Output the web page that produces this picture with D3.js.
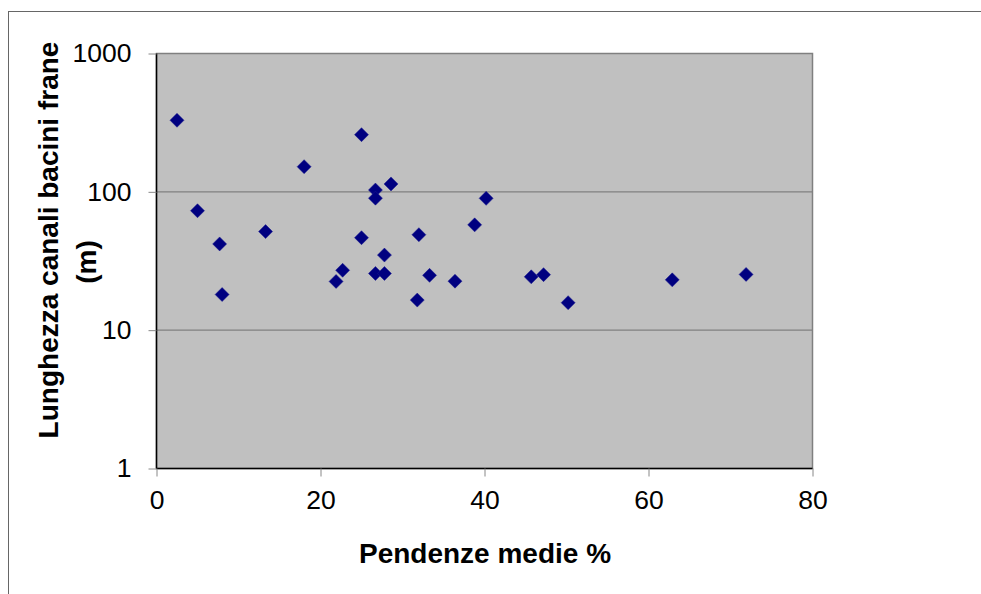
<!DOCTYPE html>
<html>
<head>
<meta charset="utf-8">
<script src="https://cdn.jsdelivr.net/npm/d3@7"></script>
<style>
  body { margin: 0; background: #fff; }
  svg text { font-family: "Liberation Sans", Arial, sans-serif; }
</style>
</head>
<body>
<svg id="chart"></svg>
<script>
// pendenze medie (%) e lunghezza canali (m)
var pendenze = [2.5, 5.0, 7.7, 8.0, 13.3, 18.0, 21.9, 22.7, 25.0, 25.0, 26.7, 26.7, 26.7, 27.8,
    27.8, 28.6, 31.8, 32.0, 33.3, 36.4, 38.8, 40.2, 45.7, 47.2, 50.2, 62.9, 71.9];
var lunghezze = [329, 73, 42, 18.1, 51.6, 152, 22.5, 27.1, 259, 46.6, 103, 90, 25.7, 34.9,
    25.7, 114, 16.5, 49, 24.9, 22.6, 57.7, 89.7, 24.3, 25.2, 15.8, 23.1, 25.3];
var xTicks = [0, 20, 40, 60, 80];
var yTicks = [1, 10, 100, 1000];
var xTitolo = "Pendenze medie %";
var yTitolo = ["Lunghezza canali bacini frane", "(m)"];

var width = 981, height = 594;
var svg = d3.select("#chart")
    .attr("width", width)
    .attr("height", height);

// cornice esterna
svg.append("rect")
    .attr("x", 8.5).attr("y", 11.5)
    .attr("width", 1000).attr("height", 1000)
    .attr("fill", "#fff")
    .attr("stroke", "#666")
    .attr("stroke-width", 1);

var x = d3.scaleLinear().domain([0, 80]).range([156.5, 812.5]);
var y = d3.scaleLog().domain([1, 1000]).range([468.5, 53.5]);

// area del grafico
svg.append("rect")
    .attr("x", x(0)).attr("y", y(1000))
    .attr("width", x(80) - x(0))
    .attr("height", y(1) - y(1000))
    .attr("fill", "#c0c0c0")
    .attr("stroke", "#808080")
    .attr("stroke-width", 1.5);

// griglia
svg.append("g")
    .selectAll("line")
    .data(yTicks.filter(function (d) { return d > 1 && d < 1000; }))
    .enter().append("line")
    .attr("x1", x(0)).attr("x2", x(80))
    .attr("y1", function (d) { return y(d); })
    .attr("y2", function (d) { return y(d); })
    .attr("stroke", "#808080")
    .attr("stroke-width", 1.2);

// assi
var xAxis = svg.append("g")
    .attr("transform", "translate(0," + y(1) + ")")
    .call(d3.axisBottom(x).tickValues(xTicks).tickSize(8).tickPadding(14));

var yAxis = svg.append("g")
    .attr("transform", "translate(" + x(0) + ",0)")
    .call(d3.axisLeft(y).tickValues(yTicks).tickFormat(d3.format("d")).tickSize(8).tickPadding(17));

[xAxis, yAxis].forEach(function (g) {
    g.select(".domain").attr("stroke", "#000").attr("stroke-width", 1.5);
    g.selectAll(".tick line").attr("stroke", "#888");
    g.selectAll(".tick text")
        .attr("fill", "#000")
        .style("font-size", "26.5px");
});
xAxis.select(".domain").attr("d", "M" + x(0) + ",0H" + x(80));
yAxis.select(".domain").attr("d", "M0," + y(1) + "V" + y(1000));

// punti
svg.append("g")
    .selectAll("path")
    .data(pendenze.map(function (p, i) { return [p, lunghezze[i]]; }))
    .enter().append("path")
    .attr("d", "M0,-7L7,0L0,7L-7,0Z")
    .attr("transform", function (d) {
        return "translate(" + x(d[0]) + "," + y(d[1]) + ")";
    })
    .attr("fill", "#000080")
    .attr("stroke", "#1a1a90")
    .attr("stroke-width", 0.5);

// titoli
svg.append("text")
    .attr("x", 485).attr("y", 563)
    .attr("text-anchor", "middle")
    .style("font-size", "28px")
    .style("font-weight", "bold")
    .text(xTitolo);

svg.append("g")
    .attr("transform", "translate(58,240) rotate(-90)")
    .selectAll("text")
    .data(yTitolo)
    .enter().append("text")
    .attr("x", function (d, i) { return i === 0 ? 0 : -22; })
    .attr("y", function (d, i) { return i * 38; })
    .attr("text-anchor", "middle")
    .style("font-size", "28px")
    .style("font-weight", "bold")
    .text(function (d) { return d; });
</script>
</body>
</html>
